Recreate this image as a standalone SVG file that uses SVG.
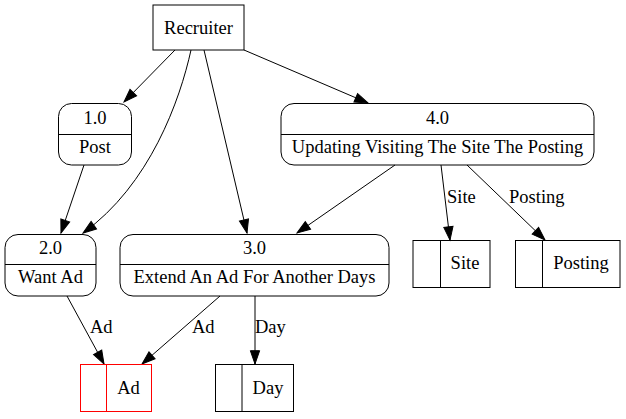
<svg xmlns="http://www.w3.org/2000/svg" width="626" height="419" viewBox="0 0 626 419">
<style>
.c{text-anchor:middle}
.n{fill:none;stroke:#000;stroke-width:1}
.e{fill:none;stroke:#000;stroke-width:1;marker-end:url(#ah)}
.red{stroke:#ff0000}
</style>
<defs>
<marker id="ah" markerUnits="userSpaceOnUse" markerWidth="14" markerHeight="10" refX="13.3" refY="4.65" orient="auto" overflow="visible">
<path d="M0,0 L13.3,4.65 L0,9.3 z" fill="#000" stroke="#000"/>
</marker>
</defs>
<rect width="626" height="419" fill="#fff"/>
<g font-family="Liberation Serif, Times New Roman, serif" font-size="18.5" fill="#000">
<g id="connectors">
<path class="e" d="M175,50 L124,102"/>
<path class="e" d="M191,50 C180,100 150,185 83,233"/>
<path class="e" d="M204,50 L247,233"/>
<path class="e" d="M244,50 L368,103"/>
<path class="e" d="M84,165 L61,233"/>
<path class="e" d="M395,165 L297,233"/>
<path class="e" d="M441,165 L450,240"/>
<text x="447" y="203">Site</text>
<path class="e" d="M467,165 L545,240"/>
<text x="509" y="203">Posting</text>
<path class="e" d="M67,296 L104,364"/>
<text x="90" y="333">Ad</text>
<path class="e" d="M220,296 L142,364"/>
<text x="192" y="333">Ad</text>
<path class="e" d="M255,296 L255,364"/>
<text x="255" y="333">Day</text>
</g>
<g id="recruiter">
<rect class="n" x="153" y="5" width="91" height="45"/>
<text class="c" x="198.5" y="34">Recruiter</text>
</g>
<g id="p1">
<rect class="n" x="58.5" y="103.5" width="73" height="61.5" rx="13"/>
<line class="n" x1="58.5" y1="134.5" x2="131.5" y2="134.5"/>
<text class="c" x="95" y="124">1.0</text>
<text class="c" x="95" y="153">Post</text>
</g>
<g id="p4">
<rect class="n" x="281" y="103.5" width="313" height="61.5" rx="13"/>
<line class="n" x1="281" y1="134.5" x2="594" y2="134.5"/>
<text class="c" x="437.5" y="124">4.0</text>
<text class="c" x="437.5" y="153">Updating Visiting The Site The Posting</text>
</g>
<g id="p2">
<rect class="n" x="5" y="234.5" width="91" height="61.5" rx="13"/>
<line class="n" x1="5" y1="264.5" x2="96" y2="264.5"/>
<text class="c" x="50.5" y="254">2.0</text>
<text class="c" x="50.5" y="283">Want Ad</text>
</g>
<g id="p3">
<rect class="n" x="120" y="234.5" width="269" height="61.5" rx="13"/>
<line class="n" x1="120" y1="264.5" x2="389" y2="264.5"/>
<text class="c" x="254.5" y="254">3.0</text>
<text class="c" x="254.5" y="283">Extend An Ad For Another Days</text>
</g>
<g id="ds_site">
<rect class="n" x="413" y="240.5" width="77" height="47"/>
<line class="n" x1="440.5" y1="240.5" x2="440.5" y2="287.5"/>
<text class="c" x="465" y="268.5">Site</text>
</g>
<g id="ds_posting">
<rect class="n" x="515.5" y="240.5" width="104.5" height="47"/>
<line class="n" x1="542.5" y1="240.5" x2="542.5" y2="287.5"/>
<text class="c" x="581" y="268.5">Posting</text>
</g>
<g id="ds_ad">
<rect class="n red" x="80.5" y="364.5" width="71" height="47"/>
<line class="n red" x1="106.5" y1="364.5" x2="106.5" y2="411.5"/>
<text class="c" x="128.5" y="393.5">Ad</text>
</g>
<g id="ds_day">
<rect class="n" x="215.5" y="364.5" width="78" height="47"/>
<line class="n" x1="242" y1="364.5" x2="242" y2="411.5"/>
<text class="c" x="268" y="393.5">Day</text>
</g>
</g>
</svg>
